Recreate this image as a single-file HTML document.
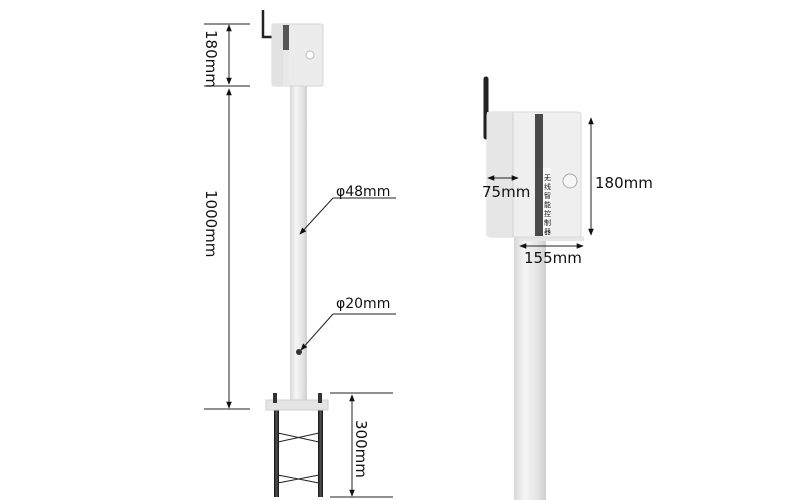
<!DOCTYPE html>
<html><head><meta charset="utf-8"><style>
html,body{margin:0;padding:0;background:#fff;}
svg{display:block;}
text{font-family:"DejaVu Sans","Liberation Sans","Noto Sans CJK SC",sans-serif;fill:#111;}
</style></head><body>
<svg width="800" height="500" viewBox="0 0 800 500" xmlns="http://www.w3.org/2000/svg">
<defs>
<marker id="a" viewBox="0 0 10 10" refX="9" refY="5" markerWidth="7" markerHeight="7" orient="auto-start-reverse"><path d="M0,1 L10,5 L0,9 z" fill="#111"/></marker>
<linearGradient id="pole" x1="0" x2="1"><stop offset="0" stop-color="#d8d8d8"/><stop offset="0.35" stop-color="#f6f6f6"/><stop offset="0.7" stop-color="#e6e6e6"/><stop offset="1" stop-color="#cfcfcf"/></linearGradient>
<linearGradient id="rod" x1="0" x2="1"><stop offset="0" stop-color="#111"/><stop offset="0.5" stop-color="#555"/><stop offset="1" stop-color="#111"/></linearGradient>
</defs>

<!-- LEFT -->
<line x1="204" y1="24" x2="250" y2="24" stroke="#222"/>
<line x1="204" y1="86" x2="250" y2="86" stroke="#222"/>
<line x1="204" y1="409" x2="250" y2="409" stroke="#222"/>
<line x1="229" y1="25" x2="229" y2="84" stroke="#222" marker-start="url(#a)" marker-end="url(#a)"/>
<line x1="229" y1="89" x2="229" y2="408" stroke="#222" marker-start="url(#a)" marker-end="url(#a)"/>
<text transform="translate(206,30) rotate(90)" font-size="15">180mm</text>
<text transform="translate(206,190) rotate(90)" font-size="15">1000mm</text>

<path d="M263,10 L263,37 L272,37" fill="none" stroke="#222" stroke-width="2.5"/>
<rect x="290" y="84" width="17" height="320" fill="url(#pole)"/>
<rect x="272" y="24" width="51" height="62" rx="2" fill="#ececec" stroke="#d6d6d6"/>
<rect x="272" y="24" width="11" height="62" fill="#e2e2e2"/>
<rect x="283" y="25" width="6" height="61" fill="#555"/>
<rect x="283" y="50" width="6" height="36" fill="#e8e8e8"/>
<circle cx="310" cy="55" r="4" fill="#fff" stroke="#bbb"/>
<rect x="274" y="410" width="5" height="87" fill="url(#rod)"/>
<rect x="318" y="410" width="5" height="87" fill="url(#rod)"/>
<path d="M278,433 L319,442 M278,442 L319,433 M278,475 L319,483 M278,483 L319,475" stroke="#222" stroke-width="1"/>
<rect x="266" y="400" width="62" height="10" fill="#e4e4e4" stroke="#cfcfcf"/>
<rect x="273" y="393" width="4" height="10" fill="#333"/>
<rect x="318" y="393" width="4" height="10" fill="#333"/>
<line x1="330" y1="393" x2="393" y2="393" stroke="#222"/>
<line x1="330" y1="497" x2="393" y2="497" stroke="#222"/>
<line x1="352" y1="395" x2="352" y2="496" stroke="#222" marker-start="url(#a)" marker-end="url(#a)"/>
<text transform="translate(356,420) rotate(90)" font-size="15">300mm</text>

<text x="336" y="196" font-size="14">φ48mm</text>
<line x1="333" y1="198" x2="396" y2="198" stroke="#222"/>
<line x1="333" y1="198" x2="300" y2="234" stroke="#222" marker-end="url(#a)"/>
<text x="336" y="308" font-size="14">φ20mm</text>
<line x1="333" y1="314" x2="396" y2="314" stroke="#222"/>
<line x1="333" y1="314" x2="301" y2="350" stroke="#222" marker-end="url(#a)"/>
<circle cx="299" cy="352" r="3" fill="#333"/>

<!-- RIGHT -->
<rect x="514" y="236" width="32" height="264" fill="url(#pole)"/>
<rect x="520" y="236" width="64" height="5" fill="#e6e6e6"/>
<path d="M486,79 L486,137" stroke="#222" stroke-width="5" stroke-linecap="round"/>
<rect x="487" y="112" width="94" height="125" rx="3" fill="#efefef" stroke="#d8d8d8"/>
<rect x="487" y="112" width="26" height="125" fill="#e6e6e6"/>
<line x1="513" y1="112" x2="513" y2="237" stroke="#d2d2d2"/>
<rect x="535" y="114" width="8" height="122" fill="#4a4a4a"/>
<rect x="543" y="168" width="8" height="68" fill="#fafafa"/>
<text font-size="7" fill="#333" font-family="Noto Sans CJK SC, sans-serif">
<tspan x="544" y="180">无</tspan><tspan x="544" y="189">线</tspan><tspan x="544" y="198">智</tspan><tspan x="544" y="207">能</tspan><tspan x="544" y="216">控</tspan><tspan x="544" y="225">制</tspan><tspan x="544" y="234">器</tspan></text>
<circle cx="570" cy="181" r="7" fill="#f6f6f6" stroke="#aaa"/>
<line x1="591" y1="118" x2="591" y2="235" stroke="#222" marker-start="url(#a)" marker-end="url(#a)"/>
<text x="595" y="188" font-size="15">180mm</text>
<line x1="488" y1="178" x2="518" y2="178" stroke="#222" marker-start="url(#a)" marker-end="url(#a)"/>
<text x="482" y="197" font-size="15">75mm</text>
<line x1="520" y1="246" x2="583" y2="246" stroke="#222" marker-start="url(#a)" marker-end="url(#a)"/>
<text x="524" y="263" font-size="15">155mm</text>
</svg>
</body></html>
